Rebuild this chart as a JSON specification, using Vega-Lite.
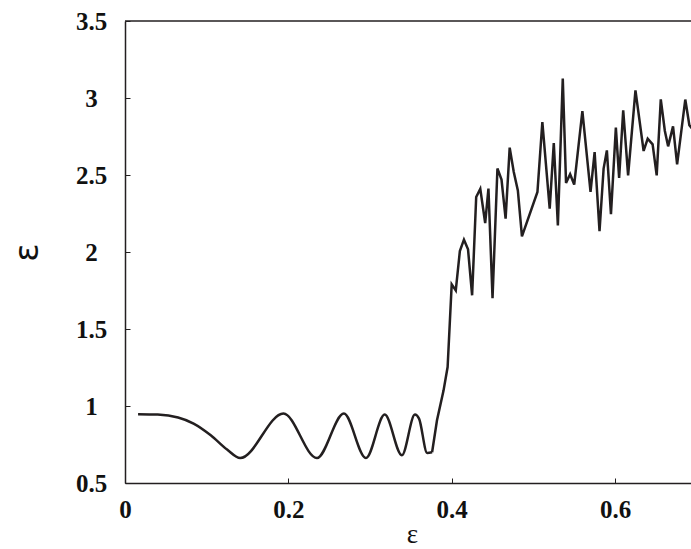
{
  "$schema": "https://vega.github.io/schema/vega-lite/v6.json",
  "width": 566,
  "height": 462,
  "autosize": {"type": "none"},
  "padding": {"left": 125, "top": 21, "right": 0, "bottom": 66},
  "background": "white",
  "config": {
    "view": {"stroke": null},
    "axis": {
      "grid": false,
      "domainColor": "#231f20",
      "domainWidth": 1.5,
      "tickColor": "#231f20",
      "tickWidth": 1,
      "tickSize": -5,
      "labelFont": "Liberation Serif",
      "labelFontWeight": "bold",
      "labelFontSize": 25,
      "labelColor": "#111111"
    }
  },
  "datasets": {
    "curve": [
      {"part": "a", "eps": 0.016, "val": 0.946},
      {"part": "a", "eps": 0.04, "val": 0.944},
      {"part": "a", "eps": 0.065, "val": 0.925},
      {"part": "a", "eps": 0.084, "val": 0.886},
      {"part": "a", "eps": 0.105, "val": 0.81},
      {"part": "a", "eps": 0.125, "val": 0.717},
      {"part": "a", "eps": 0.141, "val": 0.662},
      {"part": "a", "eps": 0.194, "val": 0.951},
      {"part": "a", "eps": 0.235, "val": 0.662},
      {"part": "a", "eps": 0.268, "val": 0.951},
      {"part": "a", "eps": 0.295, "val": 0.662},
      {"part": "a", "eps": 0.318, "val": 0.944},
      {"part": "a", "eps": 0.339, "val": 0.68},
      {"part": "a", "eps": 0.355, "val": 0.944},
      {"part": "a", "eps": 0.36, "val": 0.918},
      {"part": "a", "eps": 0.37, "val": 0.695},
      {"part": "a", "eps": 0.376, "val": 0.7},
      {"part": "b", "eps": 0.376, "val": 0.7},
      {"part": "b", "eps": 0.382, "val": 0.907},
      {"part": "b", "eps": 0.39, "val": 1.1},
      {"part": "b", "eps": 0.395, "val": 1.253},
      {"part": "b", "eps": 0.4, "val": 1.79},
      {"part": "b", "eps": 0.405, "val": 1.751},
      {"part": "b", "eps": 0.41, "val": 2.006},
      {"part": "b", "eps": 0.415, "val": 2.08},
      {"part": "b", "eps": 0.42, "val": 2.017},
      {"part": "b", "eps": 0.425, "val": 1.719},
      {"part": "b", "eps": 0.43, "val": 2.357},
      {"part": "b", "eps": 0.435, "val": 2.41},
      {"part": "b", "eps": 0.441, "val": 2.188},
      {"part": "b", "eps": 0.445, "val": 2.412},
      {"part": "b", "eps": 0.45, "val": 1.7},
      {"part": "b", "eps": 0.456, "val": 2.542},
      {"part": "b", "eps": 0.461, "val": 2.47},
      {"part": "b", "eps": 0.466, "val": 2.217},
      {"part": "b", "eps": 0.471, "val": 2.678},
      {"part": "b", "eps": 0.476, "val": 2.519},
      {"part": "b", "eps": 0.481, "val": 2.4},
      {"part": "b", "eps": 0.486, "val": 2.102},
      {"part": "b", "eps": 0.505, "val": 2.39},
      {"part": "b", "eps": 0.511, "val": 2.844},
      {"part": "b", "eps": 0.52, "val": 2.282},
      {"part": "b", "eps": 0.525, "val": 2.708},
      {"part": "b", "eps": 0.53, "val": 2.173},
      {"part": "b", "eps": 0.536, "val": 3.126},
      {"part": "b", "eps": 0.54, "val": 2.448},
      {"part": "b", "eps": 0.545, "val": 2.505},
      {"part": "b", "eps": 0.55, "val": 2.438},
      {"part": "b", "eps": 0.56, "val": 2.915},
      {"part": "b", "eps": 0.57, "val": 2.39},
      {"part": "b", "eps": 0.575, "val": 2.649},
      {"part": "b", "eps": 0.581, "val": 2.136},
      {"part": "b", "eps": 0.586, "val": 2.542},
      {"part": "b", "eps": 0.59, "val": 2.66},
      {"part": "b", "eps": 0.595, "val": 2.245},
      {"part": "b", "eps": 0.601, "val": 2.808},
      {"part": "b", "eps": 0.605, "val": 2.481},
      {"part": "b", "eps": 0.61, "val": 2.92},
      {"part": "b", "eps": 0.616, "val": 2.498},
      {"part": "b", "eps": 0.625, "val": 3.05},
      {"part": "b", "eps": 0.635, "val": 2.656},
      {"part": "b", "eps": 0.64, "val": 2.736},
      {"part": "b", "eps": 0.646, "val": 2.699},
      {"part": "b", "eps": 0.651, "val": 2.498},
      {"part": "b", "eps": 0.656, "val": 2.991},
      {"part": "b", "eps": 0.661, "val": 2.786},
      {"part": "b", "eps": 0.665, "val": 2.686},
      {"part": "b", "eps": 0.671, "val": 2.816},
      {"part": "b", "eps": 0.676, "val": 2.569},
      {"part": "b", "eps": 0.686, "val": 2.99},
      {"part": "b", "eps": 0.691, "val": 2.823},
      {"part": "b", "eps": 0.696, "val": 2.79}
    ]
  },
  "layer": [
    {
      "data": {"values": [{}]},
      "mark": {"type": "rule", "color": "#231f20", "strokeWidth": 1.5},
      "encoding": {"y": {"datum": 3.5, "type": "quantitative"}}
    },
    {
      "data": {"name": "curve"},
      "transform": [{"filter": "datum.part === 'a'"}],
      "mark": {"type": "line", "color": "#231f20", "strokeWidth": 2.5, "interpolate": "monotone", "clip": true},
      "encoding": {
        "x": {
          "field": "eps", "type": "quantitative",
          "scale": {"domain": [0, 0.693], "nice": false, "zero": false},
          "axis": {
            "values": [0, 0.2, 0.4, 0.6],
            "format": "~g",
            "labelPadding": 19,
            "title": "ε",
            "titleFont": "Liberation Serif",
            "titleFontWeight": "normal",
            "titleFontSize": 27,
            "titleColor": "#111111",
            "titleX": 287,
            "titleY": 59,
            "titleAlign": "center",
            "titleBaseline": "alphabetic",
            "labelFlush": false
          }
        },
        "y": {
          "field": "val", "type": "quantitative",
          "scale": {"domain": [0.5, 3.5], "nice": false, "zero": false},
          "axis": {
            "values": [0.5, 1, 1.5, 2, 2.5, 3, 3.5],
            "format": "~g",
            "labelAlign": "center",
            "labelPadding": 39,
            "labelFlush": false,
            "title": "ε",
            "titleFont": "DejaVu Sans",
            "titleFontWeight": "normal",
            "titleFontSize": 34,
            "titleColor": "#111111",
            "titleX": -88,
            "titleY": 231,
            "titleAlign": "center",
            "titleBaseline": "alphabetic",
            "titleAngle": -90
          }
        }
      }
    },
    {
      "data": {"name": "curve"},
      "transform": [{"filter": "datum.part === 'b'"}],
      "mark": {"type": "line", "color": "#231f20", "strokeWidth": 2.5, "clip": true},
      "encoding": {
        "x": {"field": "eps", "type": "quantitative"},
        "y": {"field": "val", "type": "quantitative"}
      }
    }
  ]
}
